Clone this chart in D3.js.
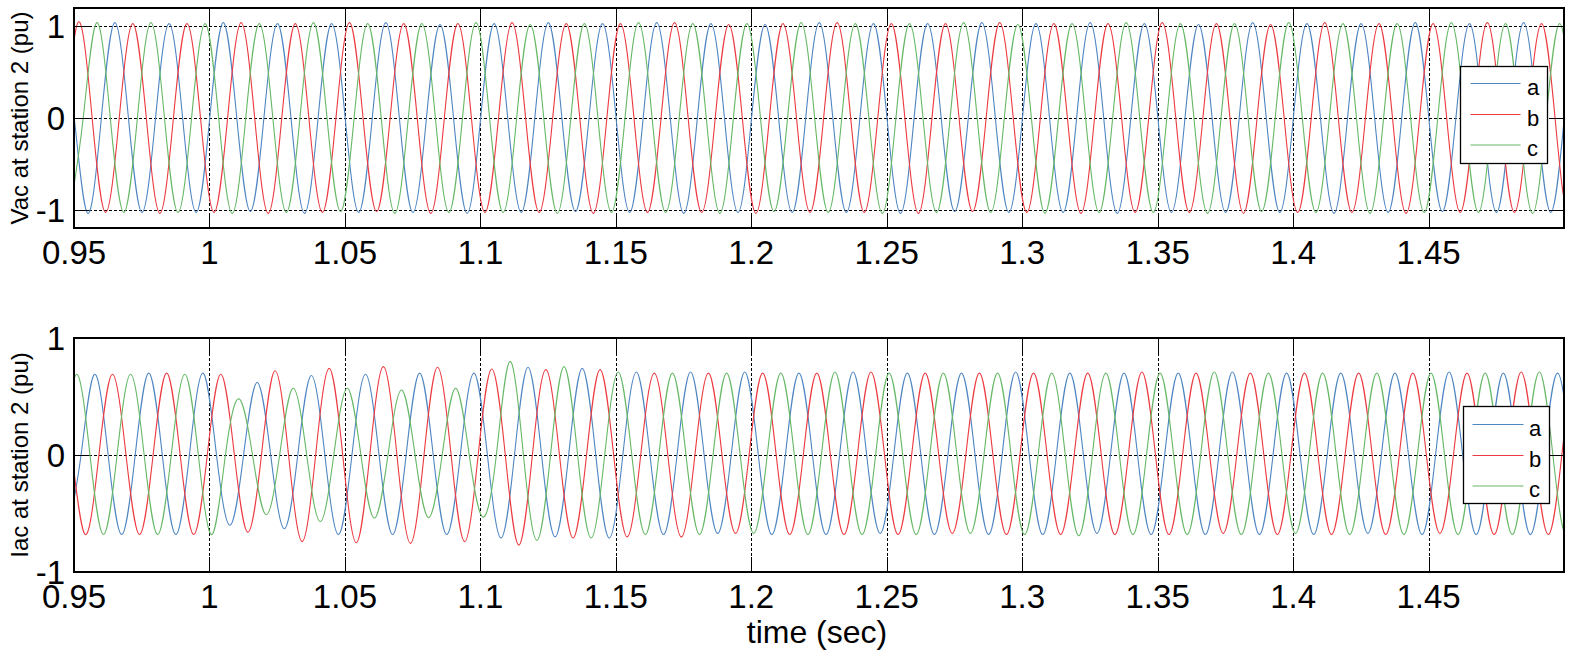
<!DOCTYPE html>
<html><head><meta charset="utf-8">
<script src="https://cdn.jsdelivr.net/npm/d3@7/dist/d3.min.js"></script>
<style>
body{margin:0;background:#fff}
text{font-family:Arial,"Liberation Sans",sans-serif;fill:#000}
</style>
</head><body>
<svg id="chart" width="1574" height="658"></svg>
<script>
// ---------------- data ----------------
const xTicks = [0.95, 1, 1.05, 1.1, 1.15, 1.2, 1.25, 1.3, 1.35, 1.4, 1.45];
const xTickLabels = ["0.95", "1", "1.05", "1.1", "1.15", "1.2", "1.25", "1.3", "1.35", "1.4", "1.45"];
const xDomain = [0.95, 1.5];
const yTicks = [-1, 0, 1];
const yTickLabels = ["-1", "0", "1"];
const phaseNames = ["a", "b", "c"];
const halfCycleSec = 0.01;           // 50 Hz: one extremum every 10 ms
// time (s) of the first extremum of each series
const vStart = [0.9451, 0.9417, 0.9484];
const iStart = [0.9476, 0.9442, 0.9409];
// successive peak / trough values (pu), one per half-cycle
const vaExtremes = [1.03,-1.04,1.04,-1.03,1.03,-1.03,1.04,-1.02,1.03,-1.04,
  1.03,-1.03,1.04,-1.03,1.02,-1.04,1.03,-1.03,1.04,-1.02,
  1.03,-1.03,1.04,-1.04,1.03,-1.03,1.02,-1.03,1.04,-1.03,
  1.03,-1.04,1.03,-1.02,1.04,-1.03,1.03,-1.03,1.04,-1.04,
  1.03,-1.03,1.02,-1.03,1.04,-1.03,1.03,-1.04,1.03,-1.03,
  1.04,-1.02,1.03,-1.03,1.04,-1.03,1.03,-1.03];
const vbExtremes = [-1.03,1.05,-1.03,1.03,-1.04,1.03,-1.03,1.04,-1.04,1.03,
  -1.03,1.04,-1.02,1.03,-1.04,1.03,-1.03,1.04,-1.03,1.03,
  -1.04,1.03,-1.03,1.04,-1.03,1.02,-1.04,1.03,-1.03,1.04,
  -1.03,1.03,-1.04,1.03,-1.02,1.04,-1.03,1.03,-1.04,1.03,
  -1.03,1.04,-1.03,1.03,-1.04,1.02,-1.03,1.04,-1.03,1.03,
  -1.04,1.03,-1.03,1.04,-1.03,1.03,-1.03,1.04];
const vcExtremes = [-1.03,1.04,-1.03,1.04,-1.03,1.03,-1.04,1.03,-1.03,1.04,
  -1.02,1.03,-1.04,1.03,-1.03,1.04,-1.03,1.02,-1.04,1.03,
  -1.03,1.04,-1.03,1.03,-1.04,1.03,-1.02,1.04,-1.03,1.03,
  -1.04,1.03,-1.03,1.04,-1.03,1.02,-1.04,1.03,-1.03,1.04,
  -1.03,1.03,-1.04,1.03,-1.02,1.04,-1.03,1.03,-1.04,1.03,
  -1.03,1.04,-1.03,1.03,-1.04,1.03,-1.03,1.04];
const iaExtremes = [-0.68,0.69,-0.68,0.70,-0.68,0.70,-0.60,0.62,-0.63,0.68,
  -0.68,0.69,-0.68,0.70,-0.68,0.70,-0.71,0.75,-0.70,0.74,
  -0.71,0.71,-0.68,0.71,-0.67,0.71,-0.68,0.70,-0.68,0.71,
  -0.67,0.70,-0.68,0.70,-0.68,0.71,-0.68,0.70,-0.67,0.70,
  -0.68,0.70,-0.68,0.71,-0.68,0.70,-0.68,0.70,-0.67,0.70,
  -0.68,0.71,-0.68,0.70,-0.68,0.70,-0.68,0.70];
const ibExtremes = [0.69,-0.68,0.69,-0.68,0.70,-0.68,0.69,-0.66,0.72,-0.74,
  0.74,-0.75,0.755,-0.755,0.75,-0.74,0.735,-0.77,0.73,-0.71,
  0.73,-0.70,0.70,-0.70,0.70,-0.67,0.70,-0.68,0.70,-0.68,
  0.71,-0.68,0.70,-0.67,0.70,-0.68,0.70,-0.68,0.70,-0.68,
  0.71,-0.68,0.70,-0.67,0.70,-0.68,0.70,-0.68,0.70,-0.68,
  0.70,-0.67,0.70,-0.68,0.71,-0.68,0.70,-0.68];
const icExtremes = [-0.68,0.69,-0.68,0.69,-0.68,0.69,-0.68,0.48,-0.51,0.57,
  -0.57,0.57,-0.54,0.555,-0.535,0.57,-0.53,0.80,-0.73,0.755,
  -0.71,0.71,-0.68,0.70,-0.68,0.70,-0.67,0.70,-0.68,0.71,
  -0.68,0.70,-0.68,0.70,-0.67,0.70,-0.68,0.70,-0.69,0.70,
  -0.68,0.70,-0.68,0.71,-0.68,0.70,-0.67,0.70,-0.68,0.70,
  -0.68,0.70,-0.68,0.70,-0.68,0.71,-0.68,0.70];
const colors = ["#4f86c2", "#ec3a40", "#66b866"];

// ---------------- drawing ----------------
const svg = d3.select("#chart");
const X0 = 74, X1 = 1564;
const x = d3.scaleLinear().domain(xDomain).range([X0, X1]);

// extremum list -> points (extremum, zero crossing, extremum, ...)
function toPoints(start, ext) {
  const pts = [];
  ext.forEach((v, k) => {
    const t = start + k * halfCycleSec;
    pts.push([t, v]);
    if (k < ext.length - 1) pts.push([t + halfCycleSec / 2, 0]);
  });
  return pts;
}

function panel(cfg) {
  const y = d3.scaleLinear().domain(cfg.yDomain).range([cfg.bottom, cfg.top]);
  const g = svg.append("g");
  const clipId = "clip" + cfg.id;
  svg.append("clipPath").attr("id", clipId).append("rect")
    .attr("x", X0).attr("y", cfg.top).attr("width", X1 - X0).attr("height", cfg.bottom - cfg.top);

  // grid
  const grid = g.append("g").attr("stroke", "#000").attr("stroke-width", 1)
    .attr("stroke-dasharray", "3,2").attr("shape-rendering", "crispEdges");
  grid.selectAll("line.vx").data(xTicks).join("line")
    .attr("x1", d => Math.round(x(d)) + 0.5).attr("x2", d => Math.round(x(d)) + 0.5)
    .attr("y1", cfg.top).attr("y2", cfg.bottom);
  grid.selectAll("line.hy").data(yTicks).join("line")
    .attr("x1", X0).attr("x2", X1)
    .attr("y1", d => Math.round(y(d)) + 0.5).attr("y2", d => Math.round(y(d)) + 0.5);

  // data
  const line = d3.line().x(d => x(d[0])).y(d => y(d[1])).curve(d3.curveNatural);
  const dg = g.append("g").attr("clip-path", `url(#${clipId})`);
  cfg.series.forEach((s, i) => {
    dg.append("path").attr("d", line(toPoints(cfg.starts[i], s)))
      .attr("fill", "none").attr("stroke", colors[i]).attr("stroke-width", 1.1);
  });

  // axes (box + inward ticks)
  const ax = g.append("g").attr("stroke", "#000").attr("stroke-width", 1.3).attr("shape-rendering", "crispEdges");
  ax.append("rect").attr("x", X0).attr("y", cfg.top).attr("width", X1 - X0).attr("height", cfg.bottom - cfg.top)
    .attr("fill", "none");
  const tl = 15;
  xTicks.forEach(d => {
    const px = Math.round(x(d)) + 0.5;
    ax.append("line").attr("x1", px).attr("x2", px).attr("y1", cfg.bottom).attr("y2", cfg.bottom - tl);
    ax.append("line").attr("x1", px).attr("x2", px).attr("y1", cfg.top).attr("y2", cfg.top + tl);
  });
  yTicks.forEach(d => {
    const py = Math.round(y(d)) + 0.5;
    ax.append("line").attr("x1", X0).attr("x2", X0 + tl).attr("y1", py).attr("y2", py);
    ax.append("line").attr("x1", X1).attr("x2", X1 - tl).attr("y1", py).attr("y2", py);
  });

  // tick labels
  g.selectAll("text.xl").data(xTicks).join("text")
    .attr("x", d => x(d)).attr("y", cfg.bottom + 35.5)
    .attr("text-anchor", "middle").attr("font-size", 33)
    .text((d, i) => xTickLabels[i]);
  g.selectAll("text.yl").data(yTicks).join("text")
    .attr("x", 65).attr("y", d => y(d) + 12)
    .attr("text-anchor", "end").attr("font-size", 33)
    .text((d, i) => yTickLabels[i]);

  // y label
  g.append("text").attr("transform", `translate(28,${(cfg.top + cfg.bottom) / 2}) rotate(-90)`)
    .attr("text-anchor", "middle").attr("font-size", 24).text(cfg.ylabel);

  // legend
  const L = cfg.legend;
  const lg = g.append("g");
  lg.append("rect").attr("x", L.x + 0.5).attr("y", L.y + 0.5).attr("width", L.w).attr("height", L.h)
    .attr("fill", "#fff").attr("stroke", "#000").attr("stroke-width", 1.3);
  phaseNames.forEach((n, i) => {
    const ly = L.rows[i];
    lg.append("line").attr("x1", L.lx1).attr("x2", L.lx2).attr("y1", ly).attr("y2", ly)
      .attr("stroke", colors[i]).attr("stroke-width", 1.2);
    lg.append("text").attr("x", L.tx).attr("y", ly + 11).attr("font-size", 22).text(n);
  });
}

panel({
  id: "v", top: 8, bottom: 228, yDomain: [-1.2, 1.2], ylabel: "Vac at station 2 (pu)",
  series: [vaExtremes, vbExtremes, vcExtremes], starts: vStart,
  legend: {x: 1460, y: 66, w: 87, h: 97, lx1: 1470.5, lx2: 1520.5, tx: 1527, rows: [83.5, 114.5, 145]}
});
panel({
  id: "i", top: 338, bottom: 572, yDomain: [-1, 1], ylabel: "Iac at station 2 (pu)",
  series: [iaExtremes, ibExtremes, icExtremes], starts: iStart,
  legend: {x: 1463, y: 406, w: 86, h: 97, lx1: 1472.5, lx2: 1523.5, tx: 1529, rows: [424.5, 455.5, 486]}
});

svg.append("text").attr("x", 817).attr("y", 643).attr("text-anchor", "middle")
  .attr("font-size", 32).text("time (sec)");
</script>
</body></html>
